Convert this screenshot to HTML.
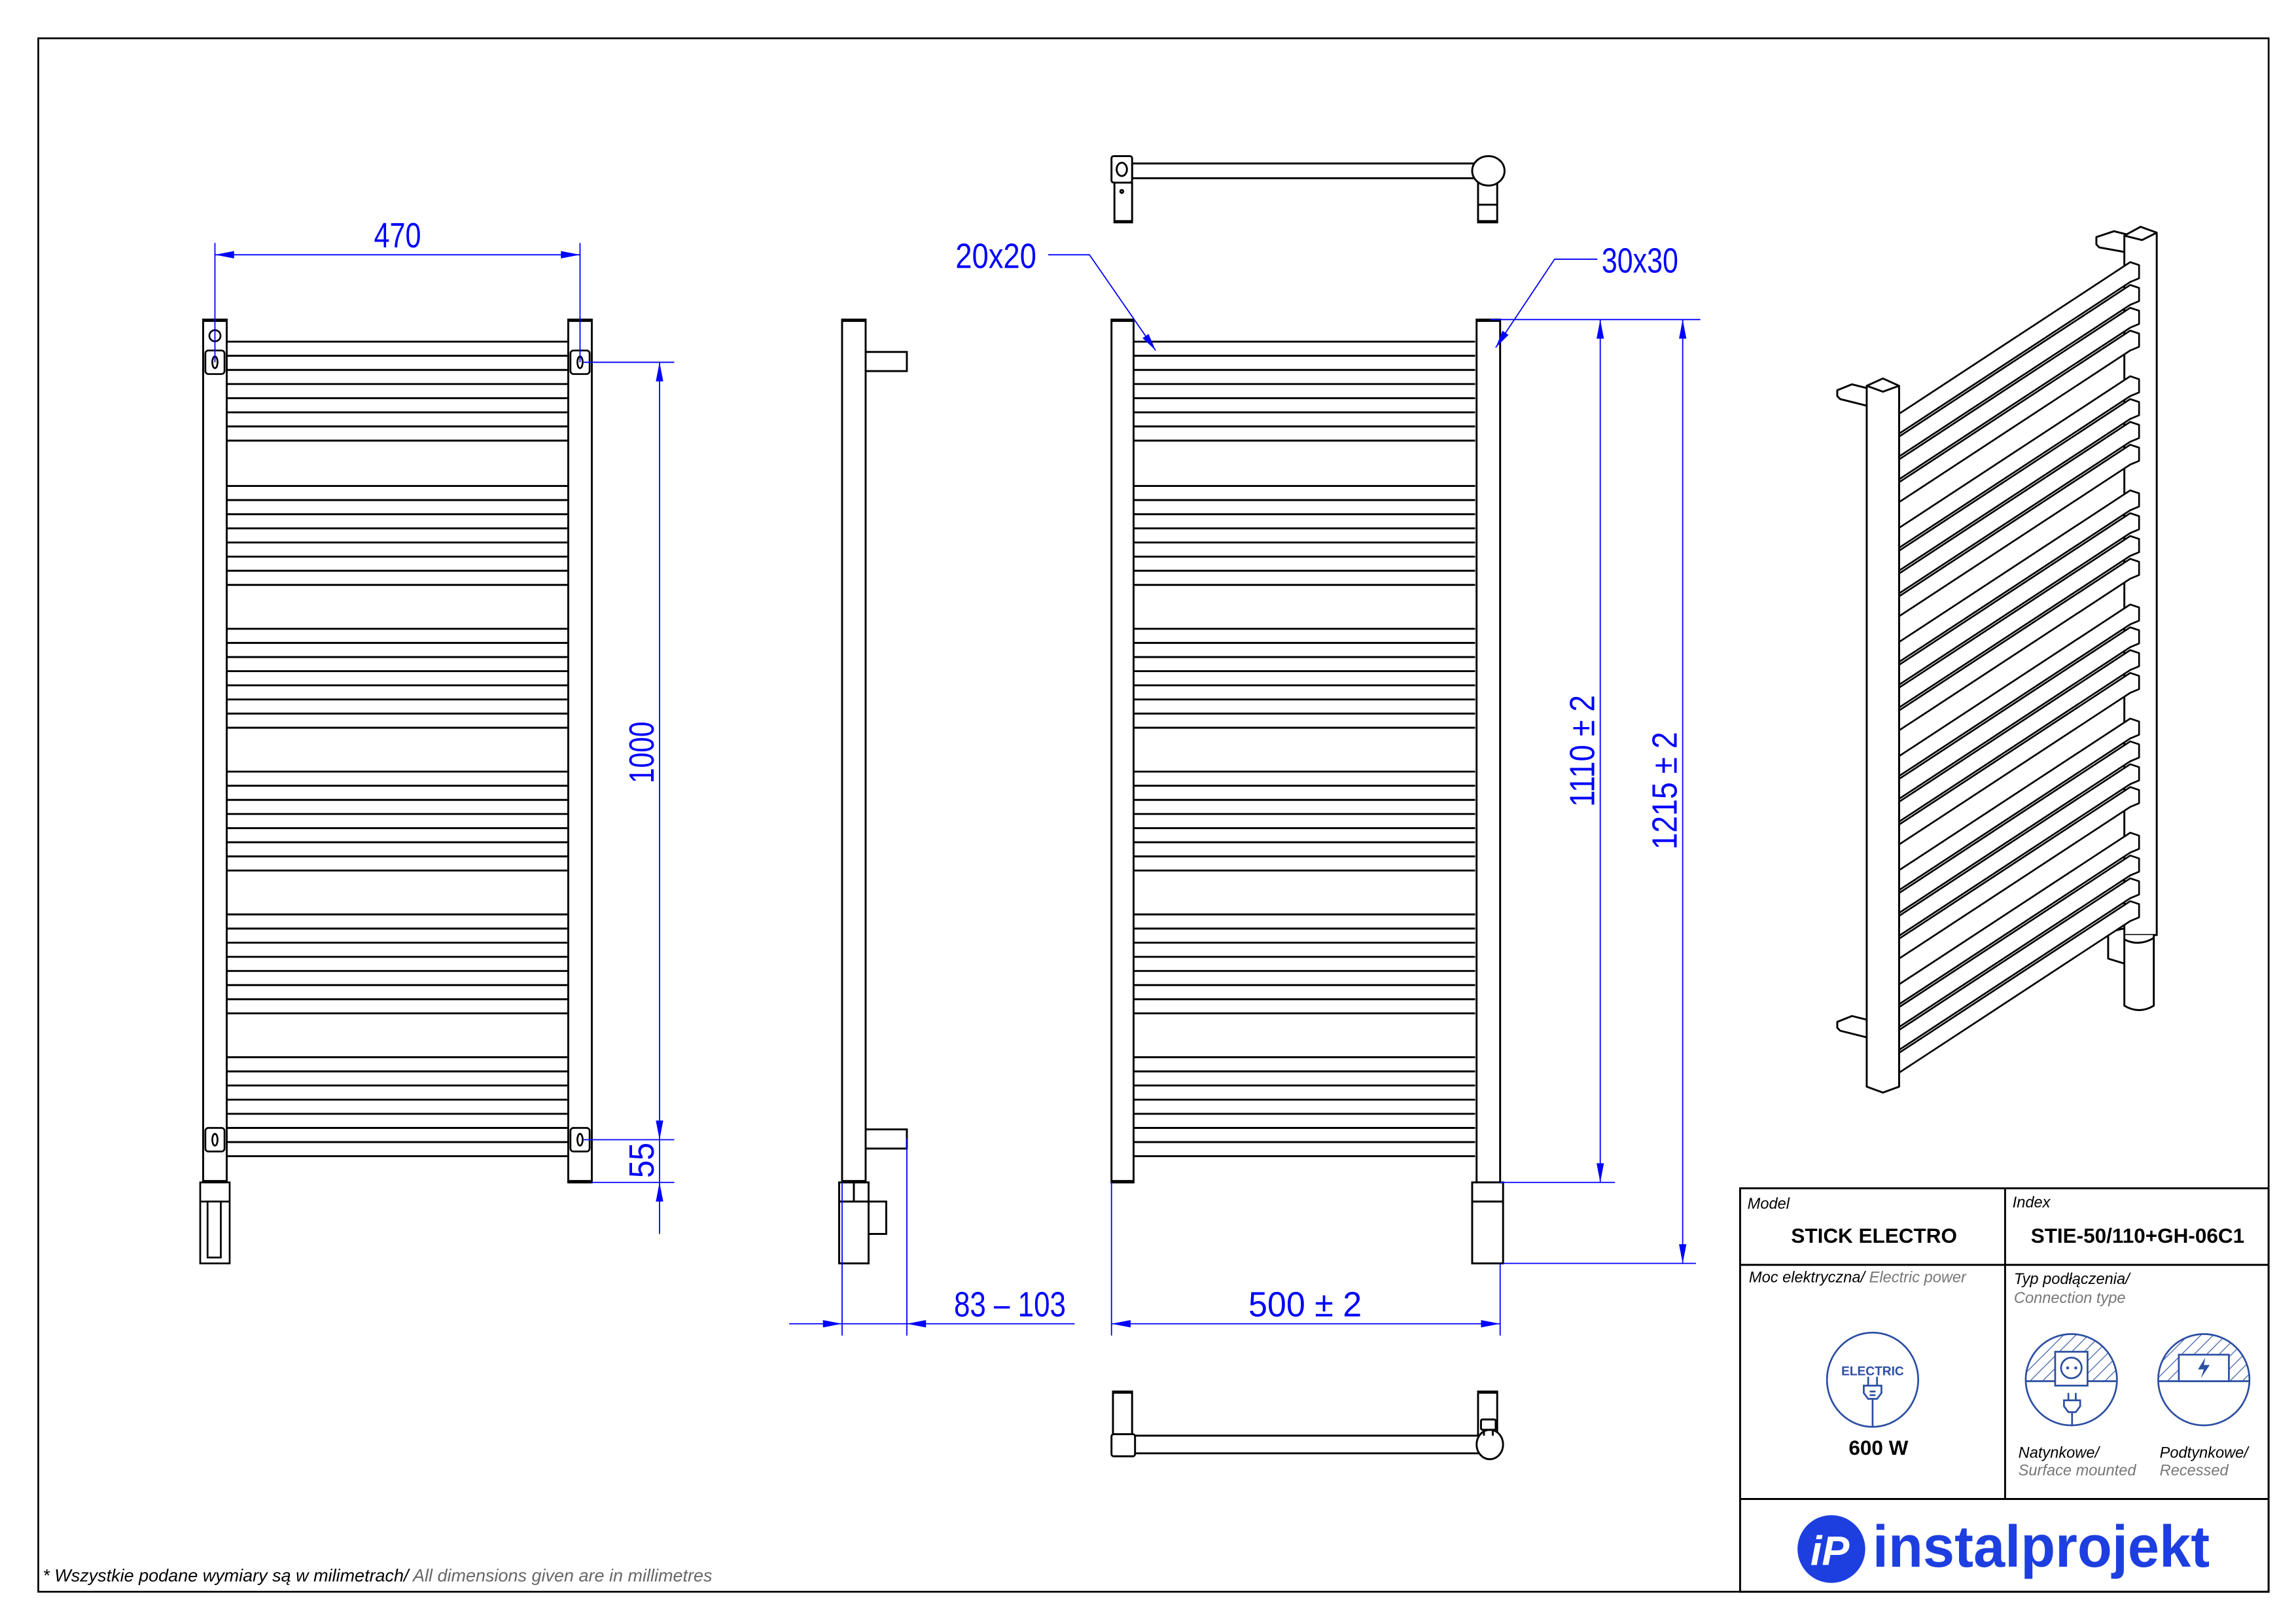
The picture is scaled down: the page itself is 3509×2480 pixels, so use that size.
<!DOCTYPE html>
<html><head><meta charset="utf-8"><style>html,body{margin:0;padding:0;background:#fff}svg{display:block}</style></head>
<body>
<svg xmlns="http://www.w3.org/2000/svg" xmlns:xlink="http://www.w3.org/1999/xlink" width="3509" height="2480" viewBox="0 0 1559.6 1102.2">
<defs>
<g id="grp" stroke="#000" stroke-width="1.3">
<line x1="0" y1="0" x2="232" y2="0"/><line x1="0" y1="9.6" x2="232" y2="9.6"/><line x1="0" y1="19.2" x2="232" y2="19.2"/><line x1="0" y1="28.8" x2="232" y2="28.8"/><line x1="0" y1="38.4" x2="232" y2="38.4"/><line x1="0" y1="48" x2="232" y2="48"/><line x1="0" y1="57.6" x2="232" y2="57.6"/><line x1="0" y1="67.2" x2="232" y2="67.2"/>
</g>
<polygon id="bar" points="-157,103 0,0 6,2 6,11 0,13.5 -157,116.5" fill="#fff" stroke="#000" stroke-width="1.2" stroke-linejoin="round"/>
<pattern id="hatch" width="6" height="6" patternUnits="userSpaceOnUse" patternTransform="rotate(45)"><line x1="0" y1="0" x2="0" y2="6" stroke="#2b4ea2" stroke-width="1"/></pattern>
<clipPath id="cc1"><circle cx="1407" cy="937" r="31"/></clipPath>
<clipPath id="cc2"><circle cx="1497" cy="937" r="31"/></clipPath>
</defs>

<rect x="26" y="26" width="1515" height="1055" fill="none" stroke="#000" stroke-width="1.2"/>

<!-- LEFT FRONT VIEW -->
<g fill="#fff" stroke="#000" stroke-width="1.3">
<rect x="138" y="217" width="16" height="586"/>
<rect x="386" y="217" width="16" height="586"/>
</g>
<line x1="138" y1="217.5" x2="154" y2="217.5" stroke="#000" stroke-width="2.2"/>
<line x1="386" y1="217.5" x2="402" y2="217.5" stroke="#000" stroke-width="2.2"/>
<use xlink:href="#grp" x="154" y="232"/>
<use xlink:href="#grp" x="154" y="330"/>
<use xlink:href="#grp" x="154" y="427"/>
<use xlink:href="#grp" x="154" y="524"/>
<use xlink:href="#grp" x="154" y="621"/>
<use xlink:href="#grp" x="154" y="718"/>
<g fill="#fff" stroke="#000" stroke-width="1.2">
<circle cx="146" cy="228" r="3.8"/>
<rect x="139.5" y="238" width="13" height="16" rx="2"/><ellipse cx="146" cy="246" rx="1.8" ry="4"/>
<rect x="387.5" y="238" width="13" height="16" rx="2"/><ellipse cx="394" cy="246" rx="1.8" ry="4"/>
<rect x="139.5" y="766" width="13" height="16" rx="2"/><ellipse cx="146" cy="774" rx="1.8" ry="4"/>
<rect x="387.5" y="766" width="13" height="16" rx="2"/><ellipse cx="394" cy="774" rx="1.8" ry="4"/>
<rect x="136" y="803" width="20" height="55"/>
<line x1="136" y1="816" x2="156" y2="816"/>
<rect x="141" y="816" width="9" height="38"/>
</g>
<line x1="386" y1="802.5" x2="402" y2="802.5" stroke="#000" stroke-width="2.2"/>
<line x1="138" y1="802.5" x2="154" y2="802.5" stroke="#000" stroke-width="2.2"/>

<g stroke="#0000ff" stroke-width="0.8" fill="none">
<line x1="146" y1="165" x2="146" y2="246"/>
<line x1="394" y1="165" x2="394" y2="246"/>
<line x1="146" y1="173" x2="394" y2="173"/>
<line x1="396" y1="246" x2="458" y2="246"/>
<line x1="396" y1="774" x2="458" y2="774"/>
<line x1="402" y1="803" x2="458" y2="803"/>
<line x1="448" y1="246" x2="448" y2="838"/>
</g>
<g fill="#0000ff">
<polygon points="146,173 159,170.5 159,175.5"/>
<polygon points="394,173 381,170.5 381,175.5"/>
<polygon points="448,246 445.5,259 450.5,259"/>
<polygon points="448,774 445.5,761 450.5,761"/>
<polygon points="448,803 445.5,816 450.5,816"/>
</g>
<g fill="#0000ff" font-family="Liberation Sans, sans-serif" font-size="24">
<text x="254" y="168" textLength="32" lengthAdjust="spacingAndGlyphs">470</text>
<text transform="translate(444,532) rotate(-90)" textLength="42" lengthAdjust="spacingAndGlyphs">1000</text>
<text transform="translate(444,800) rotate(-90)" textLength="24" lengthAdjust="spacingAndGlyphs">55</text>
</g>

<!-- SIDE VIEW -->
<g fill="#fff" stroke="#000" stroke-width="1.3">
<rect x="572" y="217" width="16" height="586"/>
<rect x="588" y="239" width="28" height="13"/>
<rect x="588" y="767" width="28" height="13"/>
<rect x="570" y="803" width="20" height="55"/>
<line x1="570" y1="816" x2="590" y2="816"/>
<line x1="580" y1="803" x2="580" y2="816"/>
<rect x="590" y="816" width="12" height="22"/>
</g>
<line x1="572" y1="217.5" x2="588" y2="217.5" stroke="#000" stroke-width="2.2"/>
<line x1="572" y1="802.5" x2="588" y2="802.5" stroke="#000" stroke-width="2.2"/>
<g stroke="#0000ff" stroke-width="0.8">
<line x1="572" y1="803" x2="572" y2="907"/>
<line x1="616" y1="773" x2="616" y2="907"/>
<line x1="536" y1="899" x2="730" y2="899"/>
</g>
<g fill="#0000ff">
<polygon points="572,899 559,896.5 559,901.5"/>
<polygon points="616,899 629,896.5 629,901.5"/>
</g>
<text x="648" y="894" fill="#0000ff" font-family="Liberation Sans, sans-serif" font-size="24" textLength="76" lengthAdjust="spacingAndGlyphs">83 – 103</text>

<!-- TOP VIEW -->
<g fill="#fff" stroke="#000" stroke-width="1.3">
<rect x="757" y="124" width="12" height="27"/>
<rect x="1004" y="124" width="13" height="27"/>
<line x1="1004" y1="139" x2="1017" y2="139"/>
<rect x="769" y="111" width="236" height="10"/>
<rect x="755" y="106" width="14" height="18" rx="1.5"/>
<ellipse cx="762" cy="115" rx="3.5" ry="4.5"/>
<circle cx="762" cy="130" r="1"/>
<ellipse cx="1011" cy="116" rx="11" ry="10"/>
</g>
<line x1="757" y1="150.5" x2="769" y2="150.5" stroke="#000" stroke-width="2"/>
<line x1="1004" y1="150.5" x2="1017" y2="150.5" stroke="#000" stroke-width="2"/>

<!-- FRONT VIEW -->
<g fill="#fff" stroke="#000" stroke-width="1.3">
<rect x="755" y="217" width="15" height="586"/>
<rect x="1003" y="217" width="16" height="586"/>
<rect x="1000" y="803" width="21" height="55"/>
<line x1="1000" y1="816" x2="1021" y2="816"/>
</g>
<line x1="755" y1="217.5" x2="770" y2="217.5" stroke="#000" stroke-width="2.2"/>
<line x1="1003" y1="217.5" x2="1019" y2="217.5" stroke="#000" stroke-width="2.2"/>
<line x1="755" y1="802.5" x2="770" y2="802.5" stroke="#000" stroke-width="2.2"/>
<use xlink:href="#grp" x="770" y="232"/>
<use xlink:href="#grp" x="770" y="330"/>
<use xlink:href="#grp" x="770" y="427"/>
<use xlink:href="#grp" x="770" y="524"/>
<use xlink:href="#grp" x="770" y="621"/>
<use xlink:href="#grp" x="770" y="718"/>

<g stroke="#0000ff" stroke-width="0.8" fill="none">
<line x1="755" y1="803" x2="755" y2="907"/>
<line x1="1019" y1="858" x2="1019" y2="907"/>
<line x1="755" y1="899" x2="1019" y2="899"/>
<line x1="1012" y1="217" x2="1155" y2="217"/>
<line x1="1019" y1="803" x2="1097" y2="803"/>
<line x1="1021" y1="858" x2="1152" y2="858"/>
<line x1="1087" y1="217" x2="1087" y2="803"/>
<line x1="1143" y1="217" x2="1143" y2="858"/>
<polyline points="712,173 740,173 785,238"/>
<polyline points="1085,176 1056,176 1016,236"/>
</g>
<g fill="#0000ff">
<polygon points="755,899 768,896.5 768,901.5"/>
<polygon points="1019,899 1006,896.5 1006,901.5"/>
<polygon points="1087,217 1084.5,230 1089.5,230"/>
<polygon points="1087,803 1084.5,790 1089.5,790"/>
<polygon points="1143,217 1140.5,230 1145.5,230"/>
<polygon points="1143,858 1140.5,845 1145.5,845"/>
<polygon points="785,238 780.2,226.8 776.1,229.6"/>
<polygon points="1016,236 1024.7,227.4 1020.6,224.6"/>
</g>
<g fill="#0000ff" font-family="Liberation Sans, sans-serif" font-size="24">
<text x="848" y="894" textLength="77" lengthAdjust="spacingAndGlyphs">500  ± 2</text>
<text x="649" y="182" textLength="55" lengthAdjust="spacingAndGlyphs">20x20</text>
<text x="1088" y="185" textLength="52" lengthAdjust="spacingAndGlyphs">30x30</text>
<text transform="translate(1083,548) rotate(-90)" textLength="76" lengthAdjust="spacingAndGlyphs">1110 ± 2</text>
<text transform="translate(1139,577) rotate(-90)" textLength="80" lengthAdjust="spacingAndGlyphs">1215 ± 2</text>
</g>

<!-- BOTTOM VIEW -->
<g fill="#fff" stroke="#000" stroke-width="1.3">
<rect x="756" y="945" width="13" height="30"/>
<rect x="1004" y="945" width="13" height="30"/>
<rect x="769" y="975" width="236" height="12"/>
<rect x="755" y="974" width="16" height="15" rx="1.5"/>
<ellipse cx="1012" cy="981" rx="9" ry="10"/>
<rect x="1006" y="964" width="10" height="7" rx="1"/>
<line x1="1008" y1="971" x2="1008" y2="975"/><line x1="1014" y1="971" x2="1014" y2="975"/>
</g>
<line x1="756" y1="945.5" x2="769" y2="945.5" stroke="#000" stroke-width="2"/>
<line x1="1004" y1="945.5" x2="1017" y2="945.5" stroke="#000" stroke-width="2"/>

<!-- ISOMETRIC -->
<g fill="#fff" stroke="#000" stroke-width="1.3" stroke-linejoin="round">
<polygon points="1424,161 1436,157 1448,160 1448,172 1426,168 1424,166"/>
<polygon points="1432,633 1445,630 1445,655 1432,651"/>
<path d="M1443,160 L1454,154 L1465,158 L1465,635 L1443,635 Z"/>
<path d="M1443,160 L1455,163 L1465,158" fill="none"/>
<path d="M1443,635 L1443,683 Q1453,689 1463,683 L1463,635"/>
<path d="M1443,638 Q1453,643 1463,637" fill="none"/>
</g>
<use xlink:href="#bar" x="1447" y="178"/>
<use xlink:href="#bar" x="1447" y="193.5"/>
<use xlink:href="#bar" x="1447" y="209"/>
<use xlink:href="#bar" x="1447" y="224.5"/>
<use xlink:href="#bar" x="1447" y="255.5"/>
<use xlink:href="#bar" x="1447" y="271"/>
<use xlink:href="#bar" x="1447" y="286.5"/>
<use xlink:href="#bar" x="1447" y="302"/>
<use xlink:href="#bar" x="1447" y="333"/>
<use xlink:href="#bar" x="1447" y="348.5"/>
<use xlink:href="#bar" x="1447" y="364"/>
<use xlink:href="#bar" x="1447" y="379.5"/>
<use xlink:href="#bar" x="1447" y="410.5"/>
<use xlink:href="#bar" x="1447" y="426"/>
<use xlink:href="#bar" x="1447" y="441.5"/>
<use xlink:href="#bar" x="1447" y="457"/>
<use xlink:href="#bar" x="1447" y="488"/>
<use xlink:href="#bar" x="1447" y="503.5"/>
<use xlink:href="#bar" x="1447" y="519"/>
<use xlink:href="#bar" x="1447" y="534.5"/>
<use xlink:href="#bar" x="1447" y="565.5"/>
<use xlink:href="#bar" x="1447" y="581"/>
<use xlink:href="#bar" x="1447" y="596.5"/>
<use xlink:href="#bar" x="1447" y="612"/>
<g fill="#fff" stroke="#000" stroke-width="1.3" stroke-linejoin="round">
<polygon points="1248,265 1258,261 1270,264 1270,276 1250,271 1248,269"/>
<polygon points="1248,694 1258,690 1270,693 1270,705 1250,700 1248,698"/>
<path d="M1268,262 L1279,257 L1290,262 L1290,738 L1279,742 L1268,738 Z"/>
<path d="M1268,262 L1279,266 L1290,262" fill="none"/>
</g>

<!-- TITLE BLOCK -->
<g stroke="#000" stroke-width="1.3" fill="none">
<rect x="1182" y="807" width="359" height="274"/>
<line x1="1362" y1="807" x2="1362" y2="1018"/>
<line x1="1182" y1="859" x2="1541" y2="859"/>
<line x1="1182" y1="1018" x2="1541" y2="1018"/>
</g>
<g font-family="Liberation Sans, sans-serif">
<text x="1187" y="821" font-size="10.5" font-style="italic">Model</text>
<text x="1273" y="844" font-size="14" font-weight="bold" text-anchor="middle">STICK ELECTRO</text>
<text x="1367" y="820" font-size="10.5" font-style="italic">Index</text>
<text x="1452" y="844" font-size="14" font-weight="bold" text-anchor="middle">STIE-50/110+GH-06C1</text>
<text x="1188" y="871" font-size="10.5" font-style="italic">Moc elektryczna/ <tspan fill="#777">Electric power</tspan></text>
<text x="1368" y="872" font-size="10.5" font-style="italic">Typ podłączenia/</text>
<text x="1368" y="885" font-size="10.5" font-style="italic" fill="#777">Connection type</text>
<text x="1276" y="988" font-size="14" font-weight="bold" text-anchor="middle">600 W</text>
<text x="1371" y="990" font-size="10.5" font-style="italic">Natynkowe/</text>
<text x="1371" y="1002" font-size="10.5" font-style="italic" fill="#777">Surface mounted</text>
<text x="1467" y="990" font-size="10.5" font-style="italic">Podtynkowe/</text>
<text x="1467" y="1002" font-size="10.5" font-style="italic" fill="#777">Recessed</text>
<text x="29" y="1074" font-size="12" font-style="italic">* Wszystkie podane wymiary są w milimetrach/<tspan fill="#666"> All dimensions given are in millimetres</tspan></text>
</g>

<g stroke="#2b4ea2" stroke-width="1.2" fill="none">
<ellipse cx="1272" cy="937" rx="31" ry="32"/>
<line x1="1269" y1="935" x2="1269" y2="941"/><line x1="1275" y1="935" x2="1275" y2="941"/>
<path d="M1266,941 L1278,941 L1278,946 L1275,950 L1269,950 L1266,946 Z"/>
<line x1="1270" y1="945" x2="1274" y2="945"/><line x1="1270" y1="947.5" x2="1274" y2="947.5"/>
<line x1="1272" y1="950" x2="1272" y2="969"/>
</g>
<text x="1272" y="934" font-family="Liberation Sans, sans-serif" font-size="8.5" font-weight="bold" fill="#2b4ea2" text-anchor="middle">ELECTRIC</text>

<g clip-path="url(#cc1)"><rect x="1370" y="900" width="80" height="38" fill="url(#hatch)"/></g>
<g stroke="#2b4ea2" stroke-width="1.2" fill="none">
<circle cx="1407" cy="937" r="31"/>
<line x1="1376" y1="938" x2="1438" y2="938"/>
<rect x="1396" y="918" width="22" height="23" fill="#fff"/>
<circle cx="1407" cy="929" r="7"/>
<line x1="1405" y1="946" x2="1405" y2="951"/><line x1="1410" y1="946" x2="1410" y2="951"/>
<path d="M1402,951 L1413,951 L1413,955 L1410,959 L1405,959 L1402,955 Z"/>
<line x1="1407.5" y1="959" x2="1407.5" y2="968"/>
</g>
<circle cx="1404.5" cy="929" r="1" fill="#2b4ea2"/><circle cx="1410" cy="929" r="1" fill="#2b4ea2"/>

<g clip-path="url(#cc2)"><rect x="1460" y="900" width="80" height="38" fill="url(#hatch)"/></g>
<g stroke="#2b4ea2" stroke-width="1.2" fill="none">
<circle cx="1497" cy="937" r="31"/>
<line x1="1466" y1="938" x2="1528" y2="938"/>
<rect x="1480" y="920" width="34" height="18" fill="#fff"/>
</g>
<polygon points="1498,922 1493,930 1497,930 1495,936 1501,927 1497,927" fill="#2b4ea2"/>

<circle cx="1244" cy="1052" r="23" fill="#1d3fe0"/>
<text x="1243" y="1063" font-family="Liberation Sans, sans-serif" font-size="28" font-weight="bold" font-style="italic" fill="#fff" text-anchor="middle">iP</text>
<text x="1272" y="1064" font-family="Liberation Sans, sans-serif" font-size="40" font-weight="bold" fill="#1d3fe0" textLength="229" lengthAdjust="spacingAndGlyphs">instalprojekt</text>
</svg>
</body></html>
